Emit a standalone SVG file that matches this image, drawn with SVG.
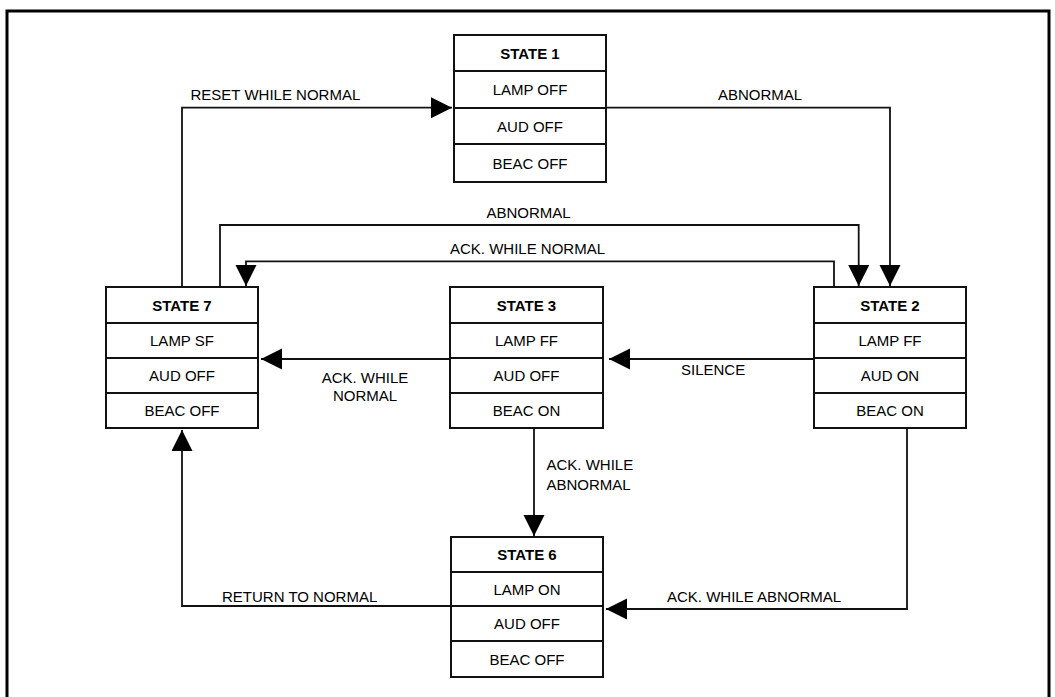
<svg xmlns="http://www.w3.org/2000/svg" width="1055" height="697" viewBox="0 0 1055 697">
<style>
  .frame { fill: none; stroke: #000; stroke-width: 3; }
  .box { fill: #fff; stroke: #111; stroke-width: 2; }
  .div { stroke: #111; stroke-width: 2; }
  .t { font-family: "Liberation Sans", Arial, sans-serif; font-size: 15px; fill: #000; text-anchor: middle; }
  .title { font-weight: bold; }
  .lbl { font-family: "Liberation Sans", Arial, sans-serif; font-size: 15px; fill: #000; }
  .c { fill: none; stroke: #111; stroke-width: 1.8; }
</style>
<defs>
  <marker id="ah" markerUnits="userSpaceOnUse" markerWidth="22" markerHeight="22" refX="21" refY="10.5" orient="auto" viewBox="0 0 22 22">
    <path d="M0,0 L21,10.5 L0,21 z" fill="#000"/>
  </marker>
</defs>
<rect width="1055" height="697" fill="#fff"/>
<rect class="frame" x="7" y="11" width="1042" height="700"/>

<g id="connectors">
  <path class="c" d="M182,287 V107.7 H452" marker-end="url(#ah)"/>
  <path class="c" d="M606,107.7 H890 V286" marker-end="url(#ah)"/>
  <path class="c" d="M220,287 V225 H858.7 V286" marker-end="url(#ah)"/>
  <path class="c" d="M834,287 V261.3 H246 V286" marker-end="url(#ah)"/>
  <path class="c" d="M814,359 H609" marker-end="url(#ah)"/>
  <path class="c" d="M450,359 H261" marker-end="url(#ah)"/>
  <path class="c" d="M534,429 V536" marker-end="url(#ah)"/>
  <path class="c" d="M907,428 V609 H606" marker-end="url(#ah)"/>
  <path class="c" d="M451,606 H182 V430" marker-end="url(#ah)"/>
  <text class="lbl" x="190.5" y="100">RESET WHILE NORMAL</text>
  <text class="lbl" x="718" y="100">ABNORMAL</text>
  <text class="lbl" x="486.5" y="218">ABNORMAL</text>
  <text class="lbl" x="450" y="254">ACK. WHILE NORMAL</text>
  <text class="lbl" x="681" y="375">SILENCE</text>
  <text class="lbl" x="365" y="383" text-anchor="middle">ACK. WHILE</text>
  <text class="lbl" x="365" y="401" text-anchor="middle">NORMAL</text>
  <text class="lbl" x="546.5" y="470">ACK. WHILE</text>
  <text class="lbl" x="546.5" y="490">ABNORMAL</text>
  <text class="lbl" x="222" y="601.5">RETURN TO NORMAL</text>
  <text class="lbl" x="667" y="601.5">ACK. WHILE ABNORMAL</text>
</g>

<g id="state1">
  <rect class="box" x="454" y="35" width="152" height="147"/>
  <line class="div" x1="454" y1="71" x2="606" y2="71"/>
  <line class="div" x1="454" y1="108" x2="606" y2="108"/>
  <line class="div" x1="454" y1="144" x2="606" y2="144"/>
  <text class="t title" x="530" y="58.5">STATE 1</text>
  <text class="t" x="530" y="95">LAMP OFF</text>
  <text class="t" x="530" y="131.5">AUD OFF</text>
  <text class="t" x="530" y="168.5">BEAC OFF</text>
</g>

<g id="state7">
  <rect class="box" x="106" y="287" width="152" height="141"/>
  <line class="div" x1="106" y1="323" x2="258" y2="323"/>
  <line class="div" x1="106" y1="358" x2="258" y2="358"/>
  <line class="div" x1="106" y1="393" x2="258" y2="393"/>
  <text class="t title" x="182" y="310.5">STATE 7</text>
  <text class="t" x="182" y="346">LAMP SF</text>
  <text class="t" x="182" y="381">AUD OFF</text>
  <text class="t" x="182" y="416">BEAC OFF</text>
</g>

<g id="state3">
  <rect class="box" x="450" y="287" width="153" height="141"/>
  <line class="div" x1="450" y1="323" x2="603" y2="323"/>
  <line class="div" x1="450" y1="358" x2="603" y2="358"/>
  <line class="div" x1="450" y1="393" x2="603" y2="393"/>
  <text class="t title" x="526.5" y="310.5">STATE 3</text>
  <text class="t" x="526.5" y="346">LAMP FF</text>
  <text class="t" x="526.5" y="381">AUD OFF</text>
  <text class="t" x="526.5" y="416">BEAC ON</text>
</g>

<g id="state2">
  <rect class="box" x="814" y="287" width="152" height="141"/>
  <line class="div" x1="814" y1="323" x2="966" y2="323"/>
  <line class="div" x1="814" y1="358" x2="966" y2="358"/>
  <line class="div" x1="814" y1="393" x2="966" y2="393"/>
  <text class="t title" x="890" y="310.5">STATE 2</text>
  <text class="t" x="890" y="346">LAMP FF</text>
  <text class="t" x="890" y="381">AUD ON</text>
  <text class="t" x="890" y="416">BEAC ON</text>
</g>

<g id="state6">
  <rect class="box" x="451" y="537" width="152" height="140"/>
  <line class="div" x1="451" y1="572" x2="603" y2="572"/>
  <line class="div" x1="451" y1="606" x2="603" y2="606"/>
  <line class="div" x1="451" y1="641" x2="603" y2="641"/>
  <text class="t title" x="527" y="560">STATE 6</text>
  <text class="t" x="527" y="595">LAMP ON</text>
  <text class="t" x="527" y="629">AUD OFF</text>
  <text class="t" x="527" y="665">BEAC OFF</text>
</g>
</svg>
